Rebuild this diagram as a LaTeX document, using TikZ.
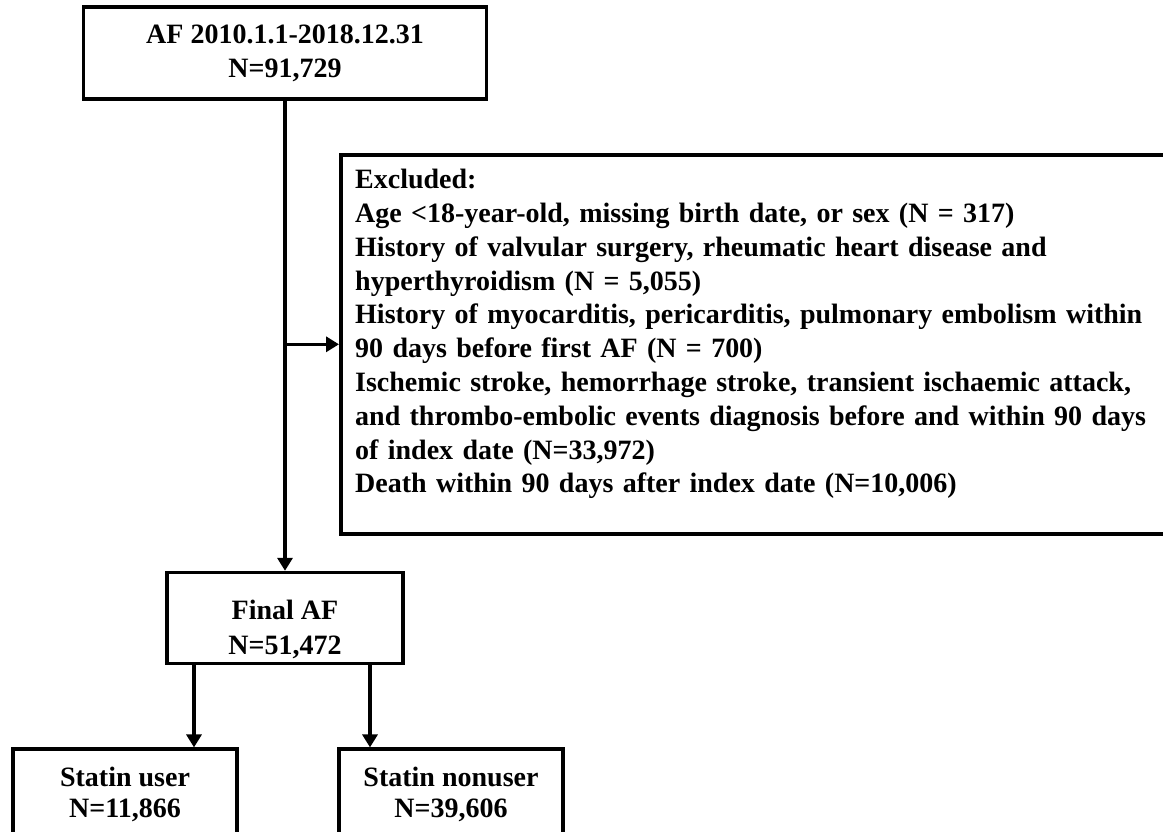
\documentclass[tikz,border=0pt]{standalone}
\usepackage{fontspec}
\setmainfont{Liberation Serif}
\usepackage{tikz}
\usetikzlibrary{arrows.meta, positioning}

\begin{document}
\begin{tikzpicture}[
  x=1pt, y=-1pt,
  every node/.style={font=\bfseries\fontsize{28}{33.8}\selectfont},
  box/.style={rectangle, draw, line width=3.6pt, align=center, inner sep=0pt},
  link/.style={-{Triangle[length=13pt,width=15pt]}, line width=3.4pt}
]
\useasboundingbox (0,0) rectangle (1163,831);
\clip (0,0) rectangle (1163,831);

% Flow boxes
\node[box, minimum width=403pt, minimum height=92pt] (start) at (285,53) {AF 2010.1.1-2018.12.31\\N=91,729};
\node[box, minimum width=236pt, minimum height=91pt, below=470pt of start] (final) {\rule{0pt}{42pt}Final AF\\[2pt]N=51,472};
\node[box, minimum width=224pt, minimum height=91pt, below=82pt of final, xshift=-160pt] (user) {Statin user\\[-3pt]N=11,866};
\node[box, minimum width=224pt, minimum height=91pt, below=82pt of final, xshift=166pt] (nonuser) {Statin nonuser\\[-3pt]N=39,606};

% Exclusion box
\node[box, anchor=north west, minimum width=840pt, minimum height=379pt] (excl) at (339,153) {};
\node[anchor=north west, text width=800pt, align=left, inner sep=0pt] (excltext) at ([xshift=16pt, yshift=-16pt]excl.north west) {Excluded:\\
Age <18-year-old, missing birth date, or sex (N = 317)\\
History of valvular surgery, rheumatic heart disease and\\
hyperthyroidism (N = 5,055)\\
History of myocarditis, pericarditis, pulmonary embolism within\\
90 days before first AF (N = 700)\\
Ischemic stroke, hemorrhage stroke, transient ischaemic attack,\\
and thrombo-embolic events diagnosis before and within 90 days\\
of index date (N=33,972)\\
Death within 90 days after index date (N=10,006)};

% Arrows
\draw[link] (start.south) -- (final.north);
\draw[link] (start.south |- excl.west) -- (excl.west);
\draw[link] ([xshift=-91pt]final.south) -- ([xshift=-91pt]final.south |- user.north);
\draw[link] ([xshift=85pt]final.south) -- ([xshift=85pt]final.south |- nonuser.north);
\end{tikzpicture}
\end{document}
